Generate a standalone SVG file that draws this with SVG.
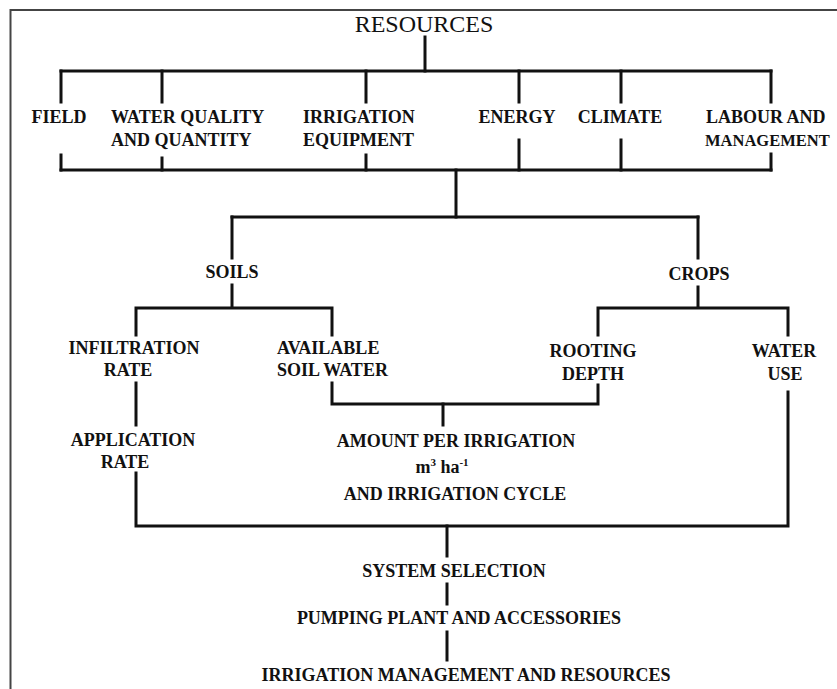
<svg xmlns="http://www.w3.org/2000/svg" width="837" height="689" viewBox="0 0 837 689">
  <style>
    .frame { stroke: #444; fill: none; }
    .wire { stroke: #111; stroke-width: 3; fill: none; stroke-linecap: square; }
    .lbl { font-family: "Liberation Serif", "Times New Roman", serif; font-weight: bold; font-size: 18px; fill: #111; }
    .mid { text-anchor: middle; }
    .title { font-family: "Liberation Serif", "Times New Roman", serif; font-size: 24px; fill: #111; text-anchor: middle; }
    .sup { font-size: 11px; }
  </style>
  <rect width="837" height="689" fill="#fff"/>
  <!-- outer frame (open at right and bottom) -->
  <path class="frame" d="M10.5 689 V10 H837" stroke-width="2"/>

  <g id="connectors">
    <!-- resources to the six resource items -->
    <path class="wire" d="M425 37 V71"/>
    <path class="wire" d="M61 71 H771"/>
    <path class="wire" d="M61 71 V102 M162 71 V102 M366 71 V102 M519 71 V102 M621 71 V102 M771 71 V102"/>
    <!-- resource items gathered below -->
    <path class="wire" d="M61 155 V170 M162 158 V170 M366 155 V170 M519 140 V170 M621 140 V170 M771 154 V170"/>
    <path class="wire" d="M61 170 H771"/>
    <path class="wire" d="M456 170 V217"/>
    <!-- split to soils and crops -->
    <path class="wire" d="M232 217 H698"/>
    <path class="wire" d="M232 217 V258 M698 217 V258"/>
    <!-- soils branch -->
    <path class="wire" d="M232 285 V308 M136 308 H332 M136 308 V335 M332 308 V335"/>
    <!-- crops branch -->
    <path class="wire" d="M698 287 V308 M598 308 H788 M598 308 V335 M788 308 V335"/>
    <!-- infiltration rate to application rate -->
    <path class="wire" d="M136 383 V425"/>
    <!-- available soil water + rooting depth to amount per irrigation -->
    <path class="wire" d="M332 383 V404 H598 V385"/>
    <path class="wire" d="M443 404 V425"/>
    <!-- application rate + water use to system selection -->
    <path class="wire" d="M136 473 V526 H788 V392"/>
    <path class="wire" d="M447 526 V556"/>
    <path class="wire" d="M447 584 V604"/>
    <path class="wire" d="M447 632 V660"/>
  </g>

  <g id="resources"><text class="title" x="424" y="32">RESOURCES</text></g>

  <g id="field"><text class="lbl mid" x="59" y="123">FIELD</text></g>
  <g id="water-quality">
    <text class="lbl" x="111" y="123">WATER QUALITY</text>
    <text class="lbl" x="111" y="146">AND QUANTITY</text>
  </g>
  <g id="irrigation-equipment">
    <text class="lbl" x="303" y="123">IRRIGATION</text>
    <text class="lbl" x="303" y="146">EQUIPMENT</text>
  </g>
  <g id="energy"><text class="lbl mid" x="517" y="123">ENERGY</text></g>
  <g id="climate"><text class="lbl mid" x="620" y="123">CLIMATE</text></g>
  <g id="labour">
    <text class="lbl" x="706" y="123">LABOUR AND</text>
    <text class="lbl" x="705" y="146" style="font-size:16.5px">MANAGEMENT</text>
  </g>

  <g id="soils"><text class="lbl mid" x="232" y="278">SOILS</text></g>
  <g id="crops"><text class="lbl mid" x="699" y="280">CROPS</text></g>

  <g id="infiltration-rate">
    <text class="lbl mid" x="134" y="354">INFILTRATION</text>
    <text class="lbl mid" x="128" y="376">RATE</text>
  </g>
  <g id="available-soil-water">
    <text class="lbl" x="277" y="354">AVAILABLE</text>
    <text class="lbl" x="277" y="376">SOIL WATER</text>
  </g>
  <g id="rooting-depth">
    <text class="lbl mid" x="593" y="357">ROOTING</text>
    <text class="lbl mid" x="593" y="380">DEPTH</text>
  </g>
  <g id="water-use">
    <text class="lbl mid" x="784" y="357">WATER</text>
    <text class="lbl mid" x="785" y="380">USE</text>
  </g>

  <g id="application-rate">
    <text class="lbl mid" x="133" y="446">APPLICATION</text>
    <text class="lbl mid" x="125" y="468">RATE</text>
  </g>
  <g id="amount-per-irrigation">
    <text class="lbl mid" x="456" y="447">AMOUNT PER IRRIGATION</text>
    <text class="lbl mid" x="442" y="473">m<tspan class="sup" dy="-7">3</tspan><tspan dy="7"> ha</tspan><tspan class="sup" dy="-7">-1</tspan></text>
    <text class="lbl mid" x="455" y="500">AND IRRIGATION CYCLE</text>
  </g>

  <g id="system-selection"><text class="lbl mid" x="454" y="577">SYSTEM SELECTION</text></g>
  <g id="pumping-plant"><text class="lbl mid" x="459" y="624">PUMPING PLANT AND ACCESSORIES</text></g>
  <g id="irrigation-management"><text class="lbl mid" x="466" y="681">IRRIGATION MANAGEMENT AND RESOURCES</text></g>
</svg>
